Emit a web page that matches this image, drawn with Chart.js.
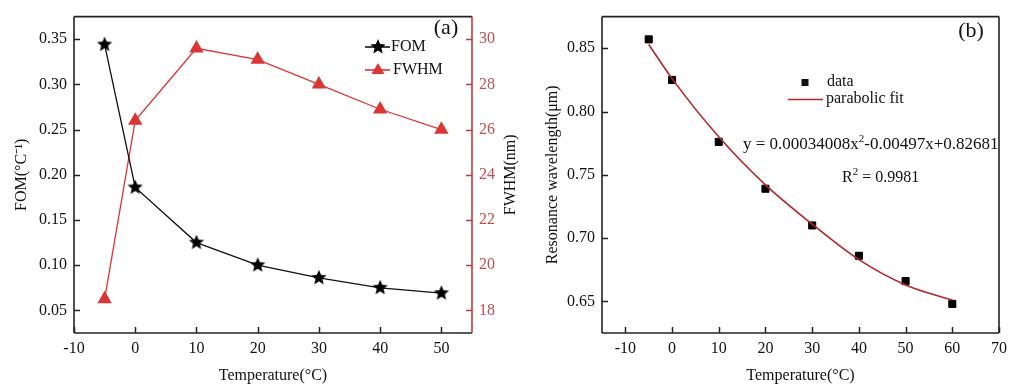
<!DOCTYPE html>
<html>
<head>
<meta charset="utf-8">
<script src="https://cdn.jsdelivr.net/npm/chart.js@4.4.1/dist/chart.umd.min.js"></script>
<style>
  body { margin: 0; background: #fff; }
  #wrap { position: relative; width: 1013px; height: 387px; }
  canvas { position: absolute; top: 0; }
</style>
</head>
<body>
<div id="wrap">
  <canvas id="chartA" width="520" height="387" style="left:0"></canvas>
  <canvas id="chartB" width="493" height="387" style="left:520px"></canvas>
</div>
<script>
//data (a)
const tempA = [-5, 0, 10, 20, 30, 40, 50];
const fom = [0.344, 0.186, 0.125, 0.1, 0.086, 0.075, 0.069];
const fwhm = [18.5, 26.4, 29.6, 29.1, 28.0, 26.9, 26.0];
const xTicksA = [-10, 0, 10, 20, 30, 40, 50];
const fomTicks = [0.05, 0.1, 0.15, 0.2, 0.25, 0.3, 0.35];
const fwhmTicks = [18, 20, 22, 24, 26, 28, 30];

//data (b)
const tempB = [-5, 0, 10, 20, 30, 40, 50, 60];
const wavelength = [0.857, 0.825, 0.776, 0.739, 0.71, 0.686, 0.666, 0.648];
const fitTemp = [-5, 0, 10, 20, 30, 40, 50, 60];
const fitWave = [0.853, 0.826, 0.78, 0.742, 0.711, 0.683, 0.663, 0.651];
const xTicksB = [-10, 0, 10, 20, 30, 40, 50, 60, 70];
const waveTicks = [0.65, 0.7, 0.75, 0.8, 0.85];

const SERIF = "'Liberation Serif', 'Times New Roman', serif";
const RED = "#dc3535";
const AXRED = "#c0393b";
const FIT = "#b3262a";

//filled star marker
function makeStar(r) {
	const c = document.createElement("canvas");
	c.width = c.height = r * 2 + 2;
	const g = c.getContext("2d");
	g.fillStyle = "#000";
	g.beginPath();
	for (let i = 0; i < 10; i++) {
		const rad = i % 2 === 0 ? r : r * 0.45;
		const a = -Math.PI / 2 + (i * Math.PI) / 5;
		g.lineTo(r + 1 + rad * Math.cos(a), r + 1 + rad * Math.sin(a));
	}
	g.closePath();
	g.fill();
	return c;
}
const star = makeStar(8);

const toXY = (xs, ys) => xs.map((x, i) => ({ x: x, y: ys[i] }));

//inner ticks + frame
function innerTicks(ctx, scale, side, area, color, len) {
	ctx.save();
	ctx.strokeStyle = color;
	ctx.lineWidth = 1.5;
	scale.ticks.forEach((t) => {
		const p = Math.round(scale.getPixelForValue(t.value)) + 0.5;
		ctx.beginPath();
		if (side === "bottom") {
			ctx.moveTo(p, area.bottom);
			ctx.lineTo(p, area.bottom - len);
		} else if (side === "left") {
			ctx.moveTo(area.left, p);
			ctx.lineTo(area.left + len, p);
		} else {
			ctx.moveTo(area.right, p);
			ctx.lineTo(area.right - len, p);
		}
		ctx.stroke();
	});
	ctx.restore();
}

function line(ctx, x1, y1, x2, y2, color) {
	ctx.strokeStyle = color;
	ctx.lineWidth = 1.6;
	ctx.beginPath();
	ctx.moveTo(x1, y1);
	ctx.lineTo(x2, y2);
	ctx.stroke();
}

const frameA = {
	id: "frameA",
	afterDraw(chart) {
		const { ctx, chartArea: a, scales } = chart;
		ctx.save();
		line(ctx, a.left, a.top, a.right, a.top, "#222");
		line(ctx, a.left, a.top, a.left, a.bottom, "#222");
		line(ctx, a.left, a.bottom, a.right, a.bottom, "#222");
		line(ctx, a.right, a.top, a.right, a.bottom, AXRED);
		innerTicks(ctx, scales.x, "bottom", a, "#222", 6);
		innerTicks(ctx, scales.y, "left", a, "#222", 6);
		innerTicks(ctx, scales.y2, "right", a, AXRED, 6);

		//right title, reads bottom to top
		ctx.save();
		ctx.translate(511, (a.top + a.bottom) / 2);
		ctx.rotate(-Math.PI / 2);
		ctx.font = "16px " + SERIF;
		ctx.fillStyle = "#111";
		ctx.textAlign = "center";
		ctx.textBaseline = "middle";
		ctx.fillText("FWHM(nm)", 0, 0);
		ctx.restore();

		//legend
		ctx.font = "16px " + SERIF;
		ctx.textBaseline = "middle";
		ctx.textAlign = "left";
		ctx.fillStyle = "#111";
		line(ctx, 365, 47, 390, 47, "#111");
		ctx.drawImage(star, 378 - star.width / 2, 47 - star.height / 2);
		ctx.fillText("FOM", 391, 47);
		line(ctx, 365, 70, 390, 70, RED);
		ctx.fillStyle = RED;
		ctx.beginPath();
		ctx.moveTo(378, 63);
		ctx.lineTo(384.5, 74);
		ctx.lineTo(371.5, 74);
		ctx.closePath();
		ctx.fill();
		ctx.fillStyle = "#111";
		ctx.fillText("FWHM", 393, 70);

		ctx.font = "22px " + SERIF;
		ctx.textAlign = "center";
		ctx.fillText("(a)", 446, 28);
		ctx.restore();
	},
};

const frameB = {
	id: "frameB",
	afterDraw(chart) {
		const { ctx, chartArea: a, scales } = chart;
		ctx.save();
		line(ctx, a.left, a.top, a.right, a.top, "#222");
		line(ctx, a.left, a.top, a.left, a.bottom, "#222");
		line(ctx, a.left, a.bottom, a.right, a.bottom, "#222");
		line(ctx, a.right, a.top, a.right, a.bottom, "#222");
		innerTicks(ctx, scales.x, "bottom", a, "#222", 6);
		innerTicks(ctx, scales.y, "left", a, "#222", 6);

		const ox = -520; // canvas offset
		ctx.font = "16px " + SERIF;
		ctx.textBaseline = "middle";
		ctx.textAlign = "left";
		ctx.fillStyle = "#111";
		ctx.fillRect(ox + 801.5, 79, 7, 7);
		ctx.fillText("data", ox + 827, 82);
		line(ctx, ox + 788, 99.5, ox + 823, 99.5, FIT);
		ctx.fillText("parabolic fit", ox + 826, 99);

		//equation with superscripts
		let x = ox + 743;
		let y = 145;
		const part = (s, font, dy) => {
			ctx.font = font;
			ctx.fillText(s, x, y + dy);
			x += ctx.measureText(s).width;
		};
		part("y = 0.00034008x", "17px " + SERIF, 0);
		part("2", "11px " + SERIF, -6);
		part("-0.00497x+0.82681", "17px " + SERIF, 0);

		x = ox + 842;
		y = 178;
		part("R", "16px " + SERIF, 0);
		part("2", "11px " + SERIF, -6);
		part(" = 0.9981", "16px " + SERIF, 0);

		ctx.font = "22px " + SERIF;
		ctx.textAlign = "center";
		ctx.fillText("(b)", ox + 971, 31);
		ctx.restore();
	},
};

const tickFont = { family: SERIF, size: 16 };
const titleFont = { family: SERIF, size: 16 };
const noGrid = { display: false, drawTicks: false, tickLength: 0 };
const setTicks = (vals) => (s) => {
	s.ticks = vals.map((v) => ({ value: v }));
};

//config (a)
const config_a = {
	type: "scatter",
	data: {
		datasets: [
			{
				data: toXY(tempA, fom),
				showLine: true,
				borderColor: "#111",
				borderWidth: 1.3,
				pointStyle: star,
				yAxisID: "y",
			},
			{
				data: toXY(tempA, fwhm),
				showLine: true,
				borderColor: RED,
				borderWidth: 1.3,
				pointStyle: "triangle",
				pointRadius: 7,
				backgroundColor: RED,
				pointBorderColor: RED,
				yAxisID: "y2",
			},
		],
	},
	options: {
		responsive: false,
		animation: false,
		layout: { padding: { top: 10, left: 0, right: 0, bottom: 0 } },
		plugins: { legend: { display: false }, tooltip: { enabled: false } },
		scales: {
			x: {
				type: "linear",
				min: -10,
				max: 55,
				afterBuildTicks: setTicks(xTicksA),
				afterFit: (s) => { s.height = 54; },
				grid: noGrid,
				border: { display: false },
				ticks: { font: tickFont, color: "#111", padding: 6, maxRotation: 0 },
				title: { display: true, text: "Temperature(°C)", font: titleFont, color: "#111", padding: { top: 0, bottom: 2 } },
			},
			y: {
				position: "left",
				min: 0.025,
				max: 0.375,
				afterBuildTicks: setTicks(fomTicks),
				afterFit: (s) => { s.width = 74; },
				grid: noGrid,
				border: { display: false },
				ticks: { font: tickFont, color: "#111", padding: 7, callback: (v) => v.toFixed(2) },
				title: { display: true, text: "FOM(°C⁻¹)", font: titleFont, color: "#111", padding: { top: 12, bottom: 0 } },
			},
			y2: {
				position: "right",
				min: 17,
				max: 31,
				afterBuildTicks: setTicks(fwhmTicks),
				afterFit: (s) => { s.width = 48; },
				grid: noGrid,
				border: { display: false },
				ticks: { font: tickFont, color: "#c0504d", padding: 7 },
			},
		},
	},
	plugins: [frameA],
};
const chart_a = new Chart(document.getElementById("chartA"), config_a);

//config (b)
const config_b = {
	type: "scatter",
	data: {
		datasets: [
			{
				data: toXY(fitTemp, fitWave),
				showLine: true,
				borderColor: FIT,
				borderWidth: 1.6,
				pointRadius: 0,
				cubicInterpolationMode: "monotone",
			},
			{
				data: toXY(tempB, wavelength),
				pointStyle: "rect",
				pointRadius: 5,
				backgroundColor: "#000",
				pointBorderColor: "#000",
			},
		],
	},
	options: {
		responsive: false,
		animation: false,
		layout: { padding: { top: 9, left: 0, right: 11, bottom: 0 } },
		plugins: { legend: { display: false }, tooltip: { enabled: false } },
		scales: {
			x: {
				type: "linear",
				min: -15,
				max: 70,
				afterBuildTicks: setTicks(xTicksB),
				afterFit: (s) => { s.height = 54; },
				grid: noGrid,
				border: { display: false },
				ticks: { font: tickFont, color: "#111", padding: 6, maxRotation: 0 },
				title: { display: true, text: "Temperature(°C)", font: titleFont, color: "#111", padding: { top: 0, bottom: 2 } },
			},
			y: {
				min: 0.625,
				max: 0.875,
				afterBuildTicks: setTicks(waveTicks),
				afterFit: (s) => { s.width = 82; },
				grid: noGrid,
				border: { display: false },
				ticks: { font: tickFont, color: "#111", padding: 7, callback: (v) => v.toFixed(2) },
				title: { display: true, text: "Resonance wavelength(μm)", font: titleFont, color: "#111", padding: { top: 23, bottom: 0 } },
			},
		},
	},
	plugins: [frameB],
};
const chart_b = new Chart(document.getElementById("chartB"), config_b);
</script>
</body>
</html>
